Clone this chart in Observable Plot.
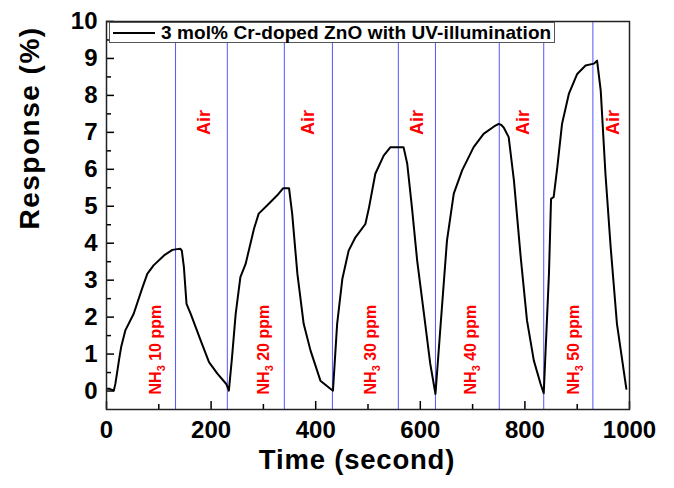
<!DOCTYPE html>
<html>
<head>
<meta charset="utf-8">
<script src="https://cdn.jsdelivr.net/npm/d3@7"></script>
<script src="https://cdn.jsdelivr.net/npm/@observablehq/plot@0.6"></script>
<style>
  html, body { margin: 0; padding: 0; background: white; }
  #wrap { position: relative; width: 674px; height: 488px; font-family: "Liberation Sans", Arial, sans-serif; }
  #legend {
    position: absolute; left: 109px; top: 22px; width: 446px; height: 21px;
    box-sizing: border-box; border: 1px solid #555; background: white;
    display: flex; align-items: center; white-space: nowrap;
  }
  #legend span { font-weight: bold; font-size: 19px; letter-spacing: 0.1px; margin-left: 5px; line-height: 19px; }
</style>
</head>
<body>
<div id="wrap"></div>
<script>
// Response curve (time in seconds, response in %)
const times = [1, 6, 14, 17, 20, 24, 28, 36, 52, 68, 78, 90, 110, 126, 135, 141, 144, 148, 153, 161, 180, 196, 212, 229, 234,
  240, 247, 256, 266, 282, 291, 307, 326, 338, 349, 355, 365, 377, 390, 409, 428, 433,
  441, 451, 463, 476, 495, 502, 514, 530, 543, 568, 575, 584, 594, 607, 619, 629,
  639, 651, 664, 680, 702, 721, 741, 750, 755, 760, 769, 779, 792, 804, 817, 830, 836,
  846, 850, 855, 862, 871, 884, 900, 916, 932, 938, 945, 954, 964, 976, 994];
const response = [0.06, 0.06, 0.01, 0.2, 0.47, 0.85, 1.19, 1.64, 2.09, 2.77, 3.17, 3.40, 3.67, 3.82, 3.84, 3.85, 3.8, 3.35, 2.36, 2.09, 1.37, 0.78, 0.47, 0.19, 0.01,
  0.91, 2.09, 3.08, 3.44, 4.39, 4.80, 5.02, 5.29, 5.49, 5.49, 4.80, 3.17, 1.82, 1.10, 0.28, 0.06, 0.01,
  1.82, 3.04, 3.80, 4.16, 4.52, 4.97, 5.88, 6.37, 6.60, 6.60, 6.15, 4.97, 3.53, 2.09, 0.74, -0.08,
  1.82, 4.07, 5.34, 5.97, 6.60, 6.96, 7.16, 7.23, 7.2, 7.12, 6.87, 5.70, 3.62, 1.91, 0.83, 0.19, -0.06,
  3.17, 5.20, 5.25, 6.06, 7.23, 8.04, 8.58, 8.81, 8.86, 8.94, 8.13, 5.88, 3.89, 1.82, 0.06];

// Gas switching times (blue lines)
const switchTimes = [132, 231, 340, 432, 558, 629, 751, 836, 930];

// Annotations
const airTimes = [186, 386, 594, 797, 969];
const airLabel = "Air";
const airLevel = 7.27;
const nh3Times = [94, 300, 505, 696, 893];
const nh3Labels = ["NH3 10 ppm", "NH3 20 ppm", "NH3 30 ppm", "NH3 40 ppm", "NH3 50 ppm"];
const nh3Level = 1.12;

// Ticks
const xMajor = [0, 200, 400, 600, 800, 1000];
const xMinor = [100, 300, 500, 700, 900];
const yMajor = [0, 1, 2, 3, 4, 5, 6, 7, 8, 9, 10];
const yMinor = [0.5, 1.5, 2.5, 3.5, 4.5, 5.5, 6.5, 7.5, 8.5, 9.5];

const legendLabel = "3 mol% Cr-doped ZnO with UV-illumination";
const xTitle = "Time (second)";
const yTitle = "Response (%)";

const curve = times.map((t, i) => ({t, v: response[i]}));
const nh3 = nh3Times.map((t, i) => ({t, label: nh3Labels[i]}));

const fmt = d => String(d);

const W = 674, H = 488, ML = 106, MR = 45, MT = 21, MB = 79;
const innerW = W - ML - MR, innerH = H - MT - MB;

const chart = Plot.plot({
  width: W,
  height: H,
  marginLeft: ML,
  marginRight: MR,
  marginTop: MT,
  marginBottom: MB,
  x: {domain: [0, 1000]},
  y: {domain: [-0.5, 10]},
  style: {fontFamily: "'Liberation Sans', Arial, sans-serif", background: "white", color: "black"},
  marks: [
    Plot.ruleX(switchTimes, {x: d => d, stroke: "#5555ff", strokeWidth: 1}),
    Plot.line(curve, {x: "t", y: "v", stroke: "black", strokeWidth: 2, strokeLinejoin: "round"}),
    Plot.text(airTimes, {x: d => d, y: () => airLevel, text: () => airLabel, rotate: -90,
      fill: "#ff0000", fontSize: 18, fontWeight: "bold"}),
    Plot.text(nh3, {x: "t", y: () => nh3Level, text: "label", rotate: -90,
      fill: "#ff0000", fontSize: 16, fontWeight: "bold"}),
    // inward ticks
    Plot.tickX(xMajor, {x: d => d, insetTop: innerH - 8, stroke: "black", strokeWidth: 1.5}),
    Plot.tickX(xMinor, {x: d => d, insetTop: innerH - 5, stroke: "black", strokeWidth: 1.5}),
    Plot.tickY(yMajor, {y: d => d, insetRight: innerW - 8, stroke: "black", strokeWidth: 1.5}),
    Plot.tickY(yMinor, {y: d => d, insetRight: innerW - 5, stroke: "black", strokeWidth: 1.5}),
    Plot.frame({stroke: "#222", strokeWidth: 1.5}),
    Plot.axisX({ticks: xMajor, tickSize: 0, tickPadding: 11, tickFormat: fmt, fontSize: 24, fontWeight: "bold", label: null, fill: "black"}),
    Plot.axisY({ticks: yMajor, tickSize: 0, tickPadding: 9, tickFormat: fmt, fontSize: 24, fontWeight: "bold", label: null, fill: "black"}),
    Plot.text([xTitle], {frameAnchor: "bottom", dx: -11, dy: 59.5, fontSize: 27.5, fontWeight: "bold", fill: "black"}),
    Plot.text([yTitle], {frameAnchor: "left", rotate: -90, dx: -76, dy: 14, fontSize: 28, fontWeight: "bold", fill: "black"})
  ]
});

document.getElementById("wrap").appendChild(chart);

// Subscript the 3 in NH3 and apply letter spacing to the titles
const SVGNS = "http://www.w3.org/2000/svg";
chart.querySelectorAll("text").forEach(el => {
  const s = el.textContent;
  if (s.startsWith("NH3")) {
    el.textContent = "";
    el.appendChild(document.createTextNode("NH"));
    const sub = document.createElementNS(SVGNS, "tspan");
    sub.setAttribute("dy", "4");
    sub.setAttribute("font-size", "11");
    sub.textContent = "3";
    el.appendChild(sub);
    const rest = document.createElementNS(SVGNS, "tspan");
    rest.setAttribute("dy", "-4");
    rest.textContent = s.slice(3);
    el.appendChild(rest);
  } else if (s === yTitle) {
    el.style.letterSpacing = "1.5px";
  } else if (s === xTitle) {
    el.style.letterSpacing = "0.8px";
  }
});

// Legend
const legend = document.createElement("div");
legend.id = "legend";
legend.innerHTML = '<svg width="46" height="19" style="display:block;flex:none"><line x1="3" x2="45" y1="10" y2="10" stroke="black" stroke-width="2"/></svg>';
const lab = document.createElement("span");
lab.textContent = legendLabel;
legend.appendChild(lab);
document.getElementById("wrap").appendChild(legend);
</script>
</body>
</html>
